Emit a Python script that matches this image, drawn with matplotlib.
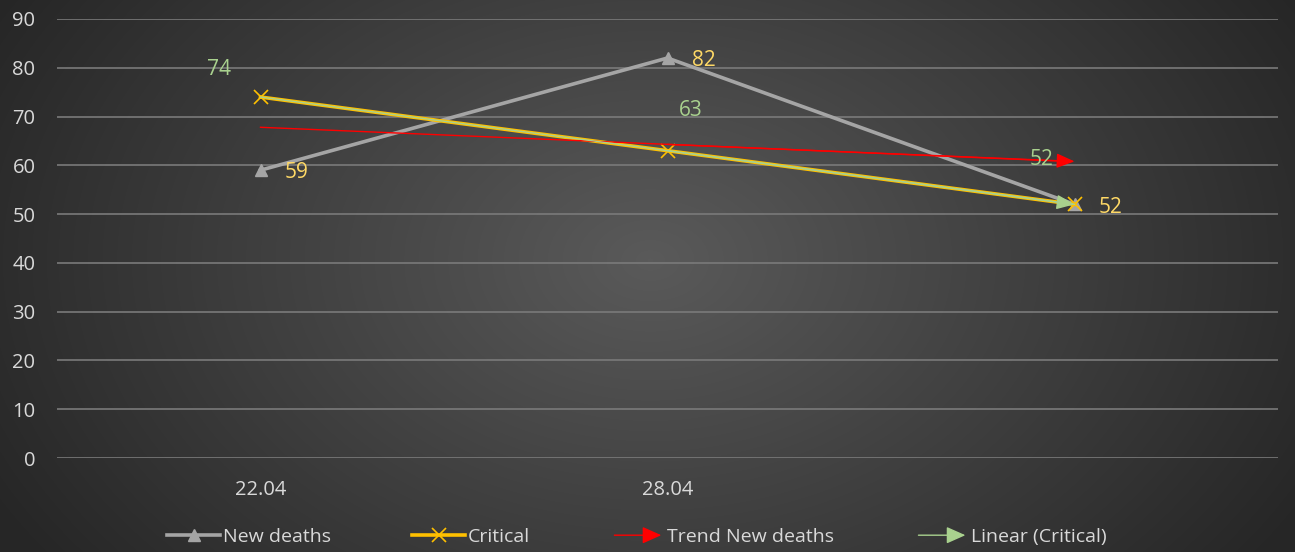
import numpy as np
import matplotlib
matplotlib.use("Agg")
import matplotlib.pyplot as plt
from matplotlib.lines import Line2D
from matplotlib.patches import FancyArrowPatch
from matplotlib.legend_handler import HandlerPatch
from matplotlib.colors import LinearSegmentedColormap

plt.rcParams['font.family'] = ['Open Sans', 'DejaVu Sans']

# data
dates = ['22.04', '28.04', '']
new_deaths = [59, 82, 52]
critical = [74, 63, 52]
trend_new_deaths = [67.8, 64.3, 60.8]
linear_critical = [74, 63, 52]

GRAY = '#a5a5a5'
GOLD = '#ffc000'
RED = '#ff0000'
GREEN = '#a9d18e'
TXT = '#d9d9d9'

fig = plt.figure(figsize=(12.95, 5.52), dpi=100)

# radial gradient background
bg = fig.add_axes([0, 0, 1, 1], zorder=-10)
yy, xx = np.mgrid[0:552, 0:1295]
r = np.sqrt(((xx - 650) / 750.0) ** 2 + ((yy - 260) / 520.0) ** 2)
cmap_bg = LinearSegmentedColormap.from_list('bg', ['#5a5a5a', '#262626'])
bg.imshow(np.clip(r, 0, 1), cmap=cmap_bg, vmin=0, vmax=1, aspect='auto')
bg.axis('off')

ax = fig.add_axes([57 / 1295, 1 - 458 / 552, 1221 / 1295, 439 / 552])
ax.patch.set_alpha(0)
x = np.arange(len(dates))

ax.set_xlim(-0.5, 2.5)
ax.set_ylim(0, 90)
ax.set_yticks(range(0, 91, 10))
ax.set_xticks(x)
ax.set_xticklabels(dates)
ax.yaxis.grid(True, color='#7a7a7a', lw=1.2)
ax.set_axisbelow(True)
for s in ax.spines.values():
    s.set_visible(False)
ax.tick_params(length=0, labelsize=14.5, colors=TXT)
ax.tick_params(axis='x', pad=16)
ax.tick_params(axis='y', pad=15.5)

ax.plot(x, new_deaths, color=GRAY, lw=2.6, marker='^', ms=9, zorder=3)
ax.plot(x, critical, color=GOLD, lw=2.6, marker='x', ms=10, mew=1.2, zorder=4)

# trend lines with arrow heads at the end
ax.plot(x[:-1].tolist() + [x[-1] - 0.03], trend_new_deaths[:-1] + [trend_new_deaths[-1] + 0.05],
        color=RED, lw=1, zorder=5)
ax.annotate('', xy=(x[-1], trend_new_deaths[-1]), xytext=(x[-2], trend_new_deaths[-2]),
            arrowprops=dict(arrowstyle='-|>,head_length=1.1,head_width=0.45', color=RED, lw=1,
                            shrinkA=0, shrinkB=0), zorder=5)
ax.plot(x, linear_critical, color=GREEN, lw=1, zorder=5)
ax.annotate('', xy=(x[-1], linear_critical[-1]), xytext=(x[-2], linear_critical[-2]),
            arrowprops=dict(arrowstyle='-|>,head_length=1.1,head_width=0.45', color=GREEN, lw=1,
                            shrinkA=0, shrinkB=0), zorder=6)

# data labels
for xi, v in zip(x, new_deaths):
    ax.annotate(str(v), (xi, v), xytext=(26, -2), textcoords='offset points',
                color='#ffd966', fontsize=15, ha='center', va='center', zorder=7)
green_offsets = [(-30, 20), (17, 29), (-24, 32)]
for xi, v, off in zip(x, critical, green_offsets):
    ax.annotate(str(v), (xi, v), xytext=off, textcoords='offset points',
                color=GREEN, fontsize=15, ha='center', va='center', zorder=7)


def make_arrow(legend, orig_handle, xdescent, ydescent, width, height, fontsize):
    return FancyArrowPatch((-xdescent, height / 2 - ydescent), (width - xdescent, height / 2 - ydescent),
                           arrowstyle='-|>,head_length=0.9,head_width=0.4', mutation_scale=13, lw=1,
                           color=orig_handle.get_edgecolor())


handles = [
    Line2D([], [], color=GRAY, lw=2.6, marker='^', ms=9),
    Line2D([], [], color=GOLD, lw=2.6, marker='x', ms=10, mew=1.2),
    FancyArrowPatch((0, 0), (1, 0), color=RED),
    FancyArrowPatch((0, 0), (1, 0), color=GREEN),
]
labels = ['New deaths', 'Critical', 'Trend New deaths', 'Linear (Critical)']
fig.legend(handles, labels, loc='center', bbox_to_anchor=(637 / 1295, 1 - 537 / 552), ncol=4,
           frameon=False, fontsize=14, labelcolor=TXT, handlelength=2.7, handletextpad=0.15,
           columnspacing=4.2,
           handler_map={FancyArrowPatch: HandlerPatch(patch_func=make_arrow)})

fig.savefig('out.png', dpi=100)
